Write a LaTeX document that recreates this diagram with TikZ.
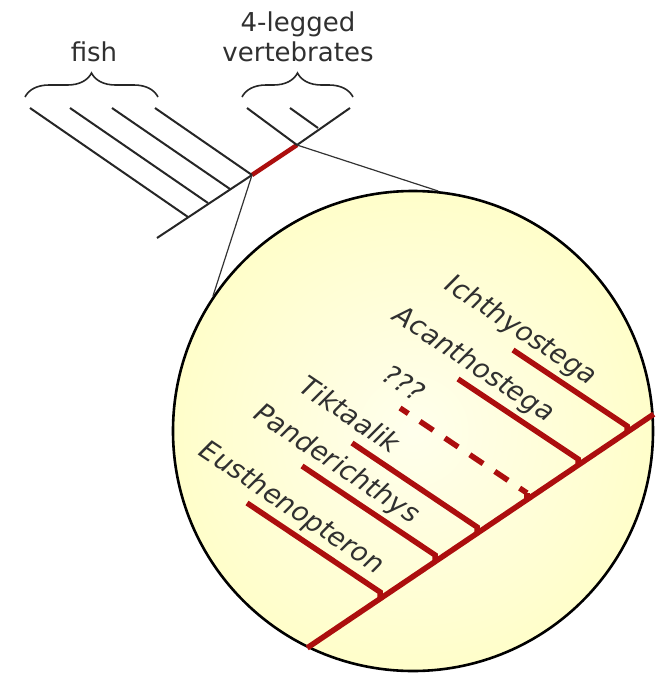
\documentclass[tikz,border=0pt]{standalone}
\usepackage{fontspec}
\setmainfont{DejaVu Sans}[ItalicFont={DejaVu Sans Oblique}]
\usetikzlibrary{decorations.pathreplacing}
\definecolor{treered}{RGB}{172,14,14}
\definecolor{lensyellow}{RGB}{255,254,202}
\definecolor{labelgray}{RGB}{48,48,48}

\begin{document}
\begin{tikzpicture}[x=1pt,y=-1pt,
  twig/.style={line width=2pt,black!85},
  redtwig/.style={line width=4.5pt,treered},
  zoomline/.style={line width=1.2pt,black!80},
  bracket/.style={decorate,decoration={brace,amplitude=24pt},line width=1.6pt,black!85},
  heading/.style={font=\fontsize{26}{30}\selectfont,text=labelgray,inner sep=0pt,align=center,anchor=south},
  branch/.style={line width=5.5pt,treered},
  taxon/.style={sloped,anchor=south east,inner xsep=0pt,inner ysep=10pt,text depth=0pt,
    font=\fontsize{27}{27}\selectfont\itshape,text=labelgray}]
\useasboundingbox (0,0) rectangle (667,678);

% small tree
\coordinate (root) at (157,238);
\coordinate (J1) at (252,175);
\coordinate (J2) at (297,145);
\coordinate (top) at (350,108);
\coordinate (f1) at (30,108);  \coordinate (fj1) at (188,217);
\coordinate (f2) at (70,108);  \coordinate (fj2) at (208,203);
\coordinate (f3) at (112,108); \coordinate (fj3) at (230,189);
\coordinate (f4) at (155,108);
\coordinate (t1) at (247,108);
\coordinate (t2) at (290,108); \coordinate (tj2) at (318,128);

\draw[twig] (root) -- (J1);
\draw[redtwig] (J1) -- (J2);
\draw[twig] (J2) -- (top);
\draw[twig] (f1) -- (fj1);
\draw[twig] (f2) -- (fj2);
\draw[twig] (f3) -- (fj3);
\draw[twig] (f4) -- (J1);
\draw[twig] (t1) -- (J2);
\draw[twig] (t2) -- (tj2);

% braces and group names
\coordinate (fb0) at (25,97);  \coordinate (fb1) at (158,97);
\coordinate (vb0) at (242,97); \coordinate (vb1) at (353,97);
\draw[bracket] (fb0) -- (fb1);
\draw[bracket] (vb0) -- (vb1);
\node[heading] (fish) at (94,62) {fish};
\node[heading] (tetrapods) at (298,62) {4-legged\\vertebrates};

% magnified part
\node[circle,draw,line width=2.6pt,minimum size=480pt,inner sep=0pt,
  inner color=lensyellow!35!white,outer color=lensyellow] (lens) at (413,431) {};
\draw[zoomline] (J1) -- (lens.146);
\draw[zoomline] (J2) -- (lens.84);

\draw[branch] (lens.244) -- (lens.4);

\coordinate (ichT) at (513,350); \coordinate (ichC) at (627,426); \coordinate (ichJ) at (627,433);
\coordinate (acaT) at (458,379); \coordinate (acaC) at (578,459); \coordinate (acaJ) at (578,466);
\coordinate (unkT) at (400,408); \coordinate (unkC) at (527,493); \coordinate (unkJ) at (527,500);
\coordinate (tikT) at (352,443); \coordinate (tikC) at (477,527); \coordinate (tikJ) at (477,534);
\coordinate (panT) at (302,466); \coordinate (panC) at (435,555); \coordinate (panJ) at (435,562);
\coordinate (eusT) at (247,503); \coordinate (eusC) at (380,592); \coordinate (eusJ) at (380,599);

\draw[branch] (ichT) -- node[taxon,pos=.63]{Ichthyostega} (ichC) -- (ichJ);
\draw[branch] (acaT) -- node[taxon,pos=.70]{Acanthostega} (acaC) -- (acaJ);
\draw[branch,dash pattern=on 16pt off 14pt,dash phase=6pt] (unkT) -- node[taxon,pos=.09]{???} (unkC);
\draw[branch] (unkC) -- (unkJ);
\draw[branch] (tikT) -- node[taxon,pos=.28]{Tiktaalik} (tikC) -- (tikJ);
\draw[branch] (panT) -- node[taxon,pos=.79]{Panderichthys} (panC) -- (panJ);
\draw[branch] (eusT) -- node[taxon,pos=.94]{Eusthenopteron} (eusC) -- (eusJ);
\end{tikzpicture}
\end{document}
